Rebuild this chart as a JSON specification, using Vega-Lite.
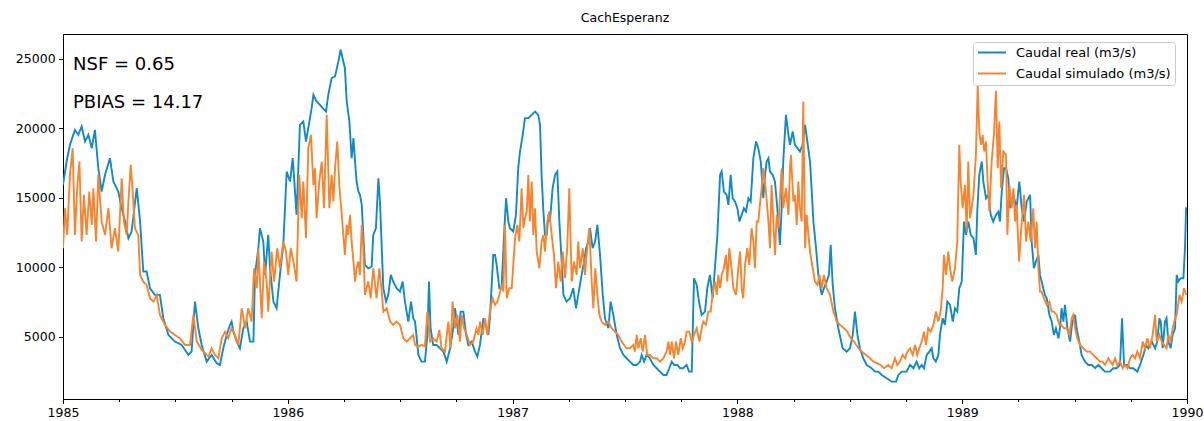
{
"$schema":"https://vega.github.io/schema/vega-lite/v6.json",
"width":1124,"height":365,
"autosize":{"type":"none"},
"padding":{"left":63,"top":34,"right":17,"bottom":22},
"background":"white",
"title":{"text":"CachEsperanz","fontSize":12.5,"fontWeight":"normal","font":"DejaVu Sans","color":"black","anchor":"middle","baseline":"bottom","offset":-3},
"config":{"font":"DejaVu Sans","view":{"stroke":"black","strokeWidth":1},
"axis":{"domainColor":"black","tickColor":"black","labelColor":"black","labelFont":"DejaVu Sans","labelFontSize":12.5,"grid":false,"title":null,"labelPadding":4,"tickWidth":1,"domainWidth":1}},
"datasets":{
"real":[
{"t":1985.000,"q":15930},{"t":1985.016,"q":17610},{"t":1985.031,"q":18811},{"t":1985.053,"q":19892},{"t":1985.068,"q":19532},{"t":1985.083,"q":20133},{"t":1985.098,"q":19052},{"t":1985.113,"q":19532},{"t":1985.128,"q":18571},{"t":1985.142,"q":19892},{"t":1985.157,"q":17130},{"t":1985.172,"q":15449},{"t":1985.187,"q":16650},{"t":1985.209,"q":17851},{"t":1985.224,"q":16169},{"t":1985.246,"q":15449},{"t":1985.261,"q":14248},{"t":1985.276,"q":13287},{"t":1985.291,"q":12086},{"t":1985.305,"q":12566},{"t":1985.328,"q":15689},{"t":1985.343,"q":13287},{"t":1985.357,"q":9684},{"t":1985.372,"q":9684},{"t":1985.387,"q":8483},{"t":1985.409,"q":8002},{"t":1985.431,"q":8002},{"t":1985.446,"q":6321},{"t":1985.469,"q":5120},{"t":1985.498,"q":4640},{"t":1985.528,"q":4399},{"t":1985.558,"q":3679},{"t":1985.572,"q":3919},{"t":1985.587,"q":7522},{"t":1985.602,"q":5600},{"t":1985.617,"q":4399},{"t":1985.639,"q":3198},{"t":1985.661,"q":3679},{"t":1985.684,"q":3078},{"t":1985.698,"q":2958},{"t":1985.713,"q":4159},{"t":1985.728,"q":5120},{"t":1985.743,"q":5841},{"t":1985.750,"q":6081},{"t":1985.758,"q":5360},{"t":1985.773,"q":4640},{"t":1985.787,"q":4159},{"t":1985.802,"q":5600},{"t":1985.817,"q":6081},{"t":1985.832,"q":4640},{"t":1985.847,"q":4640},{"t":1985.854,"q":9444},{"t":1985.869,"q":11365},{"t":1985.876,"q":12806},{"t":1985.891,"q":11846},{"t":1985.899,"q":9444},{"t":1985.913,"q":12326},{"t":1985.921,"q":9924},{"t":1985.936,"q":7522},{"t":1985.950,"q":7042},{"t":1985.965,"q":9444},{"t":1985.980,"q":11605},{"t":1985.995,"q":16890},{"t":1986.010,"q":16169},{"t":1986.022,"q":17851},{"t":1986.032,"q":15449},{"t":1986.039,"q":13767},{"t":1986.054,"q":20253},{"t":1986.069,"q":20493},{"t":1986.081,"q":19052},{"t":1986.091,"q":20013},{"t":1986.106,"q":21454},{"t":1986.114,"q":22414},{"t":1986.128,"q":21934},{"t":1986.143,"q":21694},{"t":1986.155,"q":21454},{"t":1986.170,"q":21213},{"t":1986.180,"q":22414},{"t":1986.195,"q":23615},{"t":1986.210,"q":23736},{"t":1986.225,"q":24816},{"t":1986.235,"q":25657},{"t":1986.247,"q":24816},{"t":1986.254,"q":24336},{"t":1986.262,"q":21934},{"t":1986.274,"q":20493},{"t":1986.284,"q":17851},{"t":1986.292,"q":19292},{"t":1986.299,"q":17610},{"t":1986.306,"q":16169},{"t":1986.314,"q":15449},{"t":1986.321,"q":15208},{"t":1986.329,"q":14488},{"t":1986.336,"q":12326},{"t":1986.343,"q":10164},{"t":1986.358,"q":9924},{"t":1986.373,"q":10044},{"t":1986.380,"q":12326},{"t":1986.392,"q":12806},{"t":1986.403,"q":16409},{"t":1986.410,"q":14728},{"t":1986.418,"q":11365},{"t":1986.425,"q":8483},{"t":1986.437,"q":7522},{"t":1986.447,"q":8002},{"t":1986.458,"q":9444},{"t":1986.469,"q":8963},{"t":1986.484,"q":8483},{"t":1986.499,"q":8243},{"t":1986.511,"q":8963},{"t":1986.521,"q":7522},{"t":1986.536,"q":6081},{"t":1986.548,"q":7522},{"t":1986.558,"q":6321},{"t":1986.566,"q":6081},{"t":1986.581,"q":3679},{"t":1986.595,"q":3198},{"t":1986.610,"q":3198},{"t":1986.621,"q":5120},{"t":1986.628,"q":8963},{"t":1986.635,"q":5600},{"t":1986.647,"q":4399},{"t":1986.662,"q":4399},{"t":1986.677,"q":4159},{"t":1986.692,"q":3919},{"t":1986.707,"q":3198},{"t":1986.722,"q":4159},{"t":1986.736,"q":5600},{"t":1986.744,"q":7042},{"t":1986.759,"q":5120},{"t":1986.769,"q":6801},{"t":1986.781,"q":6801},{"t":1986.793,"q":5120},{"t":1986.803,"q":4399},{"t":1986.818,"q":4640},{"t":1986.833,"q":3919},{"t":1986.843,"q":3559},{"t":1986.855,"q":4399},{"t":1986.870,"q":6321},{"t":1986.885,"q":5600},{"t":1986.892,"q":5120},{"t":1986.899,"q":6321},{"t":1986.907,"q":8723},{"t":1986.914,"q":10885},{"t":1986.922,"q":10885},{"t":1986.929,"q":10164},{"t":1986.941,"q":8483},{"t":1986.951,"q":8483},{"t":1986.962,"q":12326},{"t":1986.971,"q":14968},{"t":1986.981,"q":13287},{"t":1986.988,"q":12806},{"t":1987.003,"q":12566},{"t":1987.015,"q":13767},{"t":1987.025,"q":17130},{"t":1987.033,"q":18331},{"t":1987.045,"q":19532},{"t":1987.055,"q":20733},{"t":1987.070,"q":20733},{"t":1987.085,"q":20973},{"t":1987.100,"q":21213},{"t":1987.114,"q":20973},{"t":1987.122,"q":20253},{"t":1987.129,"q":16650},{"t":1987.137,"q":14007},{"t":1987.144,"q":12326},{"t":1987.152,"q":12326},{"t":1987.159,"q":13767},{"t":1987.166,"q":13287},{"t":1987.178,"q":15689},{"t":1987.189,"q":16650},{"t":1987.199,"q":16890},{"t":1987.208,"q":13287},{"t":1987.215,"q":11365},{"t":1987.226,"q":8002},{"t":1987.240,"q":7522},{"t":1987.255,"q":7762},{"t":1987.270,"q":8483},{"t":1987.282,"q":7042},{"t":1987.292,"q":8002},{"t":1987.307,"q":9444},{"t":1987.318,"q":10404},{"t":1987.327,"q":11365},{"t":1987.337,"q":11846},{"t":1987.344,"q":12806},{"t":1987.356,"q":11365},{"t":1987.367,"q":11846},{"t":1987.377,"q":13047},{"t":1987.389,"q":10885},{"t":1987.401,"q":8002},{"t":1987.411,"q":6321},{"t":1987.426,"q":5600},{"t":1987.436,"q":7522},{"t":1987.448,"q":6561},{"t":1987.463,"q":5120},{"t":1987.478,"q":4159},{"t":1987.493,"q":3679},{"t":1987.507,"q":3439},{"t":1987.522,"q":3198},{"t":1987.537,"q":2958},{"t":1987.552,"q":2958},{"t":1987.567,"q":3198},{"t":1987.574,"q":3679},{"t":1987.585,"q":3198},{"t":1987.596,"q":3679},{"t":1987.611,"q":3439},{"t":1987.626,"q":2958},{"t":1987.641,"q":2718},{"t":1987.656,"q":2478},{"t":1987.671,"q":2238},{"t":1987.685,"q":2238},{"t":1987.697,"q":2718},{"t":1987.708,"q":3198},{"t":1987.719,"q":2958},{"t":1987.733,"q":2958},{"t":1987.745,"q":2718},{"t":1987.759,"q":2718},{"t":1987.774,"q":2958},{"t":1987.785,"q":2478},{"t":1987.797,"q":2478},{"t":1987.807,"q":9203},{"t":1987.819,"q":8723},{"t":1987.829,"q":7522},{"t":1987.841,"q":6561},{"t":1987.856,"q":6801},{"t":1987.866,"q":8483},{"t":1987.878,"q":9444},{"t":1987.890,"q":7762},{"t":1987.900,"q":9924},{"t":1987.911,"q":12326},{"t":1987.923,"q":16650},{"t":1987.930,"q":16890},{"t":1987.940,"q":15449},{"t":1987.952,"q":15208},{"t":1987.960,"q":14488},{"t":1987.970,"q":16650},{"t":1987.979,"q":14968},{"t":1987.989,"q":14728},{"t":1988.000,"q":14248},{"t":1988.009,"q":13287},{"t":1988.019,"q":13767},{"t":1988.029,"q":14248},{"t":1988.038,"q":14007},{"t":1988.049,"q":14968},{"t":1988.059,"q":14728},{"t":1988.071,"q":17851},{"t":1988.083,"q":19052},{"t":1988.093,"q":18571},{"t":1988.104,"q":17610},{"t":1988.115,"q":14968},{"t":1988.123,"q":16650},{"t":1988.130,"q":17610},{"t":1988.138,"q":17851},{"t":1988.145,"q":16890},{"t":1988.157,"q":16650},{"t":1988.167,"q":16169},{"t":1988.175,"q":14728},{"t":1988.182,"q":13287},{"t":1988.189,"q":11605},{"t":1988.197,"q":14248},{"t":1988.204,"q":17610},{"t":1988.216,"q":20973},{"t":1988.227,"q":19532},{"t":1988.234,"q":18811},{"t":1988.246,"q":19772},{"t":1988.256,"q":18811},{"t":1988.267,"q":18571},{"t":1988.278,"q":18331},{"t":1988.290,"q":18811},{"t":1988.301,"q":20253},{"t":1988.311,"q":19052},{"t":1988.323,"q":17610},{"t":1988.330,"q":15689},{"t":1988.338,"q":13287},{"t":1988.350,"q":11365},{"t":1988.360,"q":9444},{"t":1988.375,"q":8002},{"t":1988.385,"q":8483},{"t":1988.397,"q":8963},{"t":1988.407,"q":9444},{"t":1988.415,"q":11605},{"t":1988.424,"q":8723},{"t":1988.434,"q":7042},{"t":1988.449,"q":5600},{"t":1988.468,"q":4159},{"t":1988.486,"q":3919},{"t":1988.501,"q":4159},{"t":1988.513,"q":5120},{"t":1988.523,"q":6801},{"t":1988.534,"q":5120},{"t":1988.545,"q":4159},{"t":1988.560,"q":3439},{"t":1988.575,"q":2958},{"t":1988.597,"q":2718},{"t":1988.612,"q":2478},{"t":1988.627,"q":2478},{"t":1988.642,"q":2238},{"t":1988.664,"q":1997},{"t":1988.686,"q":1757},{"t":1988.706,"q":1757},{"t":1988.716,"q":2238},{"t":1988.731,"q":2478},{"t":1988.753,"q":2478},{"t":1988.768,"q":2958},{"t":1988.783,"q":2718},{"t":1988.797,"q":3198},{"t":1988.809,"q":2718},{"t":1988.820,"q":2958},{"t":1988.830,"q":2718},{"t":1988.842,"q":3679},{"t":1988.854,"q":3919},{"t":1988.864,"q":4159},{"t":1988.872,"q":3439},{"t":1988.883,"q":3198},{"t":1988.894,"q":3679},{"t":1988.901,"q":5120},{"t":1988.913,"q":6321},{"t":1988.923,"q":5841},{"t":1988.934,"q":7522},{"t":1988.946,"q":7282},{"t":1988.958,"q":6081},{"t":1988.968,"q":7042},{"t":1988.978,"q":6801},{"t":1988.987,"q":8483},{"t":1988.998,"q":8963},{"t":1989.008,"q":13287},{"t":1989.017,"q":12326},{"t":1989.027,"q":13287},{"t":1989.038,"q":12326},{"t":1989.050,"q":12086},{"t":1989.061,"q":10885},{"t":1989.067,"q":14007},{"t":1989.076,"q":16650},{"t":1989.087,"q":17610},{"t":1989.094,"q":16169},{"t":1989.106,"q":14968},{"t":1989.116,"q":15208},{"t":1989.127,"q":13767},{"t":1989.138,"q":13287},{"t":1989.150,"q":13767},{"t":1989.161,"q":14007},{"t":1989.168,"q":13287},{"t":1989.176,"q":15449},{"t":1989.186,"q":17130},{"t":1989.195,"q":17130},{"t":1989.205,"q":16409},{"t":1989.213,"q":14248},{"t":1989.228,"q":15208},{"t":1989.242,"q":14248},{"t":1989.254,"q":16169},{"t":1989.265,"q":14248},{"t":1989.275,"q":13287},{"t":1989.287,"q":14728},{"t":1989.302,"q":15208},{"t":1989.309,"q":11846},{"t":1989.319,"q":9924},{"t":1989.328,"q":10404},{"t":1989.339,"q":10885},{"t":1989.346,"q":9444},{"t":1989.368,"q":8002},{"t":1989.376,"q":7762},{"t":1989.388,"q":6561},{"t":1989.398,"q":6081},{"t":1989.408,"q":5120},{"t":1989.417,"q":5600},{"t":1989.428,"q":4880},{"t":1989.435,"q":5600},{"t":1989.442,"q":7042},{"t":1989.450,"q":6081},{"t":1989.457,"q":7282},{"t":1989.468,"q":5600},{"t":1989.480,"q":4640},{"t":1989.490,"q":6081},{"t":1989.502,"q":6561},{"t":1989.509,"q":5600},{"t":1989.521,"q":4640},{"t":1989.531,"q":3679},{"t":1989.546,"q":3198},{"t":1989.561,"q":2958},{"t":1989.576,"q":2958},{"t":1989.591,"q":2718},{"t":1989.606,"q":2958},{"t":1989.620,"q":2718},{"t":1989.635,"q":2478},{"t":1989.657,"q":2478},{"t":1989.672,"q":2718},{"t":1989.687,"q":2718},{"t":1989.702,"q":2958},{"t":1989.711,"q":6321},{"t":1989.720,"q":2958},{"t":1989.735,"q":2958},{"t":1989.747,"q":2718},{"t":1989.761,"q":2718},{"t":1989.779,"q":2478},{"t":1989.791,"q":2958},{"t":1989.806,"q":3679},{"t":1989.818,"q":4399},{"t":1989.828,"q":4159},{"t":1989.843,"q":4640},{"t":1989.858,"q":4159},{"t":1989.868,"q":4640},{"t":1989.877,"q":6321},{"t":1989.883,"q":6081},{"t":1989.892,"q":4159},{"t":1989.902,"q":6081},{"t":1989.909,"q":6321},{"t":1989.917,"q":4640},{"t":1989.927,"q":4159},{"t":1989.936,"q":5120},{"t":1989.947,"q":5600},{"t":1989.954,"q":9444},{"t":1989.961,"q":8963},{"t":1989.972,"q":9203},{"t":1989.984,"q":9203},{"t":1989.991,"q":11365},{"t":1989.996,"q":14248},{"t":1989.999,"q":14250}
],
"sim":[
{"t":1985.000,"q":11365},{"t":1985.009,"q":14248},{"t":1985.019,"q":12326},{"t":1985.031,"q":16650},{"t":1985.043,"q":18571},{"t":1985.053,"q":12326},{"t":1985.064,"q":15929},{"t":1985.073,"q":17610},{"t":1985.083,"q":11846},{"t":1985.093,"q":15208},{"t":1985.105,"q":12326},{"t":1985.117,"q":15449},{"t":1985.128,"q":13047},{"t":1985.135,"q":15689},{"t":1985.147,"q":11846},{"t":1985.157,"q":16650},{"t":1985.172,"q":13287},{"t":1985.187,"q":12326},{"t":1985.202,"q":14248},{"t":1985.216,"q":11365},{"t":1985.231,"q":12806},{"t":1985.246,"q":11125},{"t":1985.261,"q":16409},{"t":1985.271,"q":13287},{"t":1985.283,"q":12326},{"t":1985.291,"q":14728},{"t":1985.301,"q":17370},{"t":1985.310,"q":15449},{"t":1985.320,"q":12806},{"t":1985.335,"q":12326},{"t":1985.343,"q":9444},{"t":1985.357,"q":8963},{"t":1985.372,"q":8723},{"t":1985.387,"q":7762},{"t":1985.402,"q":7522},{"t":1985.417,"q":8002},{"t":1985.431,"q":6561},{"t":1985.454,"q":5841},{"t":1985.476,"q":5360},{"t":1985.498,"q":5120},{"t":1985.520,"q":4880},{"t":1985.543,"q":4399},{"t":1985.565,"q":4399},{"t":1985.580,"q":6561},{"t":1985.595,"q":4640},{"t":1985.617,"q":4039},{"t":1985.647,"q":3559},{"t":1985.661,"q":4159},{"t":1985.676,"q":3679},{"t":1985.691,"q":3439},{"t":1985.706,"q":4880},{"t":1985.721,"q":5360},{"t":1985.735,"q":4880},{"t":1985.750,"q":5600},{"t":1985.765,"q":5120},{"t":1985.780,"q":4399},{"t":1985.795,"q":7042},{"t":1985.810,"q":5600},{"t":1985.824,"q":7042},{"t":1985.839,"q":6081},{"t":1985.850,"q":9924},{"t":1985.862,"q":8483},{"t":1985.869,"q":11365},{"t":1985.884,"q":6321},{"t":1985.894,"q":10404},{"t":1985.906,"q":8963},{"t":1985.913,"q":6801},{"t":1985.928,"q":11125},{"t":1985.939,"q":8963},{"t":1985.953,"q":11365},{"t":1985.965,"q":9924},{"t":1985.980,"q":11846},{"t":1985.992,"q":11125},{"t":1986.002,"q":9444},{"t":1986.013,"q":11365},{"t":1986.025,"q":10404},{"t":1986.039,"q":8963},{"t":1986.051,"q":16650},{"t":1986.062,"q":13527},{"t":1986.069,"q":16169},{"t":1986.081,"q":12086},{"t":1986.091,"q":18571},{"t":1986.103,"q":19532},{"t":1986.114,"q":15929},{"t":1986.121,"q":17130},{"t":1986.128,"q":13527},{"t":1986.140,"q":16169},{"t":1986.151,"q":17610},{"t":1986.161,"q":14248},{"t":1986.173,"q":20973},{"t":1986.185,"q":14248},{"t":1986.195,"q":16650},{"t":1986.203,"q":14728},{"t":1986.210,"q":17130},{"t":1986.220,"q":19052},{"t":1986.229,"q":15929},{"t":1986.240,"q":13767},{"t":1986.247,"q":12326},{"t":1986.254,"q":10885},{"t":1986.262,"q":13047},{"t":1986.269,"q":12326},{"t":1986.277,"q":13767},{"t":1986.284,"q":11846},{"t":1986.292,"q":10404},{"t":1986.299,"q":8963},{"t":1986.306,"q":9924},{"t":1986.314,"q":10404},{"t":1986.321,"q":9444},{"t":1986.329,"q":13047},{"t":1986.336,"q":11365},{"t":1986.343,"q":8002},{"t":1986.358,"q":8963},{"t":1986.369,"q":7762},{"t":1986.380,"q":9924},{"t":1986.395,"q":7762},{"t":1986.407,"q":9924},{"t":1986.418,"q":8243},{"t":1986.425,"q":6801},{"t":1986.440,"q":7042},{"t":1986.455,"q":6081},{"t":1986.469,"q":5841},{"t":1986.484,"q":6081},{"t":1986.499,"q":5841},{"t":1986.514,"q":4880},{"t":1986.529,"q":4640},{"t":1986.544,"q":4880},{"t":1986.558,"q":5120},{"t":1986.566,"q":4399},{"t":1986.581,"q":4279},{"t":1986.595,"q":4399},{"t":1986.610,"q":4279},{"t":1986.621,"q":6801},{"t":1986.633,"q":4640},{"t":1986.647,"q":4880},{"t":1986.662,"q":4640},{"t":1986.674,"q":5480},{"t":1986.684,"q":4159},{"t":1986.699,"q":3919},{"t":1986.714,"q":6081},{"t":1986.724,"q":4159},{"t":1986.733,"q":7522},{"t":1986.744,"q":5600},{"t":1986.754,"q":6561},{"t":1986.766,"q":4640},{"t":1986.773,"q":6561},{"t":1986.784,"q":5600},{"t":1986.796,"q":5120},{"t":1986.810,"q":4399},{"t":1986.825,"q":4640},{"t":1986.840,"q":5600},{"t":1986.848,"q":5120},{"t":1986.855,"q":6081},{"t":1986.867,"q":5120},{"t":1986.877,"q":6321},{"t":1986.888,"q":5120},{"t":1986.899,"q":6801},{"t":1986.911,"q":7762},{"t":1986.922,"q":7282},{"t":1986.932,"q":7522},{"t":1986.941,"q":8002},{"t":1986.951,"q":8723},{"t":1986.959,"q":8243},{"t":1986.966,"q":13047},{"t":1986.974,"q":7762},{"t":1986.985,"q":8483},{"t":1986.996,"q":8483},{"t":1987.003,"q":10164},{"t":1987.011,"q":12086},{"t":1987.021,"q":13047},{"t":1987.030,"q":11846},{"t":1987.040,"q":15689},{"t":1987.048,"q":12806},{"t":1987.055,"q":13527},{"t":1987.063,"q":14007},{"t":1987.070,"q":16650},{"t":1987.077,"q":13287},{"t":1987.085,"q":16169},{"t":1987.092,"q":12326},{"t":1987.100,"q":14248},{"t":1987.107,"q":11125},{"t":1987.119,"q":9924},{"t":1987.129,"q":11846},{"t":1987.137,"q":12326},{"t":1987.144,"q":11125},{"t":1987.152,"q":13047},{"t":1987.163,"q":14007},{"t":1987.174,"q":12326},{"t":1987.184,"q":10885},{"t":1987.193,"q":8483},{"t":1987.203,"q":10404},{"t":1987.214,"q":8963},{"t":1987.223,"q":11125},{"t":1987.233,"q":9203},{"t":1987.243,"q":11365},{"t":1987.252,"q":15689},{"t":1987.263,"q":8963},{"t":1987.273,"q":10404},{"t":1987.285,"q":9444},{"t":1987.292,"q":11846},{"t":1987.300,"q":9924},{"t":1987.312,"q":11365},{"t":1987.322,"q":9444},{"t":1987.329,"q":10885},{"t":1987.341,"q":12806},{"t":1987.352,"q":8963},{"t":1987.359,"q":7042},{"t":1987.368,"q":9924},{"t":1987.377,"q":8002},{"t":1987.386,"q":6561},{"t":1987.396,"q":6081},{"t":1987.411,"q":5841},{"t":1987.426,"q":6081},{"t":1987.441,"q":5600},{"t":1987.455,"q":5360},{"t":1987.470,"q":5120},{"t":1987.485,"q":4640},{"t":1987.507,"q":4159},{"t":1987.522,"q":4159},{"t":1987.537,"q":4399},{"t":1987.544,"q":3919},{"t":1987.552,"q":5120},{"t":1987.559,"q":4159},{"t":1987.570,"q":4880},{"t":1987.579,"q":3919},{"t":1987.589,"q":5120},{"t":1987.599,"q":3679},{"t":1987.611,"q":3679},{"t":1987.626,"q":3439},{"t":1987.641,"q":3439},{"t":1987.656,"q":3198},{"t":1987.671,"q":3439},{"t":1987.685,"q":3919},{"t":1987.693,"q":4640},{"t":1987.700,"q":3679},{"t":1987.708,"q":4640},{"t":1987.718,"q":3439},{"t":1987.727,"q":4640},{"t":1987.737,"q":3679},{"t":1987.748,"q":4880},{"t":1987.757,"q":4159},{"t":1987.767,"q":4640},{"t":1987.774,"q":5360},{"t":1987.786,"q":5360},{"t":1987.797,"q":4640},{"t":1987.807,"q":5120},{"t":1987.819,"q":5600},{"t":1987.831,"q":4640},{"t":1987.841,"q":5600},{"t":1987.848,"q":6081},{"t":1987.860,"q":5841},{"t":1987.871,"q":6801},{"t":1987.881,"q":6801},{"t":1987.893,"q":8483},{"t":1987.900,"q":8963},{"t":1987.908,"q":8002},{"t":1987.915,"q":9444},{"t":1987.923,"q":8483},{"t":1987.930,"q":9444},{"t":1987.940,"q":9924},{"t":1987.949,"q":10885},{"t":1987.955,"q":8963},{"t":1987.964,"q":11365},{"t":1987.974,"q":9924},{"t":1987.982,"q":8483},{"t":1987.994,"q":8002},{"t":1988.004,"q":9924},{"t":1988.012,"q":11125},{"t":1988.019,"q":8483},{"t":1988.026,"q":7762},{"t":1988.034,"q":10164},{"t":1988.044,"q":11365},{"t":1988.053,"q":10164},{"t":1988.063,"q":12806},{"t":1988.071,"q":11846},{"t":1988.078,"q":9924},{"t":1988.086,"q":13287},{"t":1988.093,"q":13287},{"t":1988.100,"q":14488},{"t":1988.108,"q":15689},{"t":1988.115,"q":17130},{"t":1988.127,"q":15449},{"t":1988.138,"q":13287},{"t":1988.145,"q":11365},{"t":1988.152,"q":15929},{"t":1988.160,"q":13287},{"t":1988.167,"q":10885},{"t":1988.175,"q":13767},{"t":1988.182,"q":12806},{"t":1988.189,"q":14968},{"t":1988.197,"q":17130},{"t":1988.204,"q":14248},{"t":1988.216,"q":15689},{"t":1988.227,"q":13767},{"t":1988.234,"q":17130},{"t":1988.238,"q":18091},{"t":1988.249,"q":14728},{"t":1988.256,"q":15208},{"t":1988.264,"q":13047},{"t":1988.271,"q":16169},{"t":1988.278,"q":14248},{"t":1988.286,"q":13287},{"t":1988.293,"q":21934},{"t":1988.301,"q":11365},{"t":1988.308,"q":13767},{"t":1988.316,"q":12326},{"t":1988.323,"q":11125},{"t":1988.335,"q":9924},{"t":1988.345,"q":8963},{"t":1988.356,"q":8723},{"t":1988.365,"q":9444},{"t":1988.375,"q":8483},{"t":1988.385,"q":9444},{"t":1988.397,"q":8483},{"t":1988.412,"q":8002},{"t":1988.427,"q":6801},{"t":1988.442,"q":6081},{"t":1988.456,"q":5841},{"t":1988.474,"q":5600},{"t":1988.489,"q":5360},{"t":1988.504,"q":4880},{"t":1988.519,"q":4640},{"t":1988.538,"q":4159},{"t":1988.553,"q":3919},{"t":1988.572,"q":3679},{"t":1988.590,"q":3439},{"t":1988.605,"q":3198},{"t":1988.622,"q":3078},{"t":1988.637,"q":2958},{"t":1988.652,"q":2718},{"t":1988.671,"q":2958},{"t":1988.686,"q":2718},{"t":1988.701,"q":3439},{"t":1988.711,"q":2958},{"t":1988.723,"q":3198},{"t":1988.735,"q":3679},{"t":1988.746,"q":3439},{"t":1988.756,"q":3919},{"t":1988.768,"q":4159},{"t":1988.780,"q":3679},{"t":1988.790,"q":4399},{"t":1988.800,"q":3679},{"t":1988.809,"q":4159},{"t":1988.820,"q":4640},{"t":1988.830,"q":5360},{"t":1988.839,"q":4399},{"t":1988.849,"q":5600},{"t":1988.860,"q":5360},{"t":1988.872,"q":5841},{"t":1988.883,"q":6801},{"t":1988.894,"q":6081},{"t":1988.904,"q":6801},{"t":1988.913,"q":8483},{"t":1988.919,"q":10885},{"t":1988.928,"q":9444},{"t":1988.938,"q":11125},{"t":1988.946,"q":9924},{"t":1988.956,"q":8963},{"t":1988.968,"q":9924},{"t":1988.978,"q":11846},{"t":1988.987,"q":18811},{"t":1988.993,"q":16169},{"t":1989.002,"q":14248},{"t":1989.012,"q":15929},{"t":1989.020,"q":12566},{"t":1989.027,"q":17610},{"t":1989.035,"q":13527},{"t":1989.042,"q":14248},{"t":1989.050,"q":15208},{"t":1989.061,"q":18091},{"t":1989.069,"q":23100},{"t":1989.076,"q":19772},{"t":1989.084,"q":18811},{"t":1989.091,"q":19532},{"t":1989.098,"q":18331},{"t":1989.106,"q":19052},{"t":1989.113,"q":16169},{"t":1989.121,"q":14007},{"t":1989.131,"q":17610},{"t":1989.141,"q":19532},{"t":1989.150,"q":22700},{"t":1989.158,"q":17130},{"t":1989.165,"q":20493},{"t":1989.173,"q":15689},{"t":1989.183,"q":18331},{"t":1989.195,"q":18091},{"t":1989.201,"q":12326},{"t":1989.210,"q":15929},{"t":1989.220,"q":14248},{"t":1989.228,"q":15689},{"t":1989.235,"q":13287},{"t":1989.242,"q":14488},{"t":1989.253,"q":10404},{"t":1989.265,"q":13287},{"t":1989.275,"q":15208},{"t":1989.284,"q":11846},{"t":1989.294,"q":13287},{"t":1989.305,"q":11846},{"t":1989.316,"q":14248},{"t":1989.324,"q":11365},{"t":1989.331,"q":13287},{"t":1989.339,"q":9924},{"t":1989.346,"q":8243},{"t":1989.353,"q":8243},{"t":1989.364,"q":7762},{"t":1989.376,"q":7282},{"t":1989.388,"q":7522},{"t":1989.398,"q":6801},{"t":1989.408,"q":6801},{"t":1989.420,"q":6561},{"t":1989.432,"q":5841},{"t":1989.442,"q":5841},{"t":1989.453,"q":5600},{"t":1989.465,"q":5600},{"t":1989.477,"q":5120},{"t":1989.487,"q":6321},{"t":1989.494,"q":6561},{"t":1989.502,"q":5600},{"t":1989.512,"q":4880},{"t":1989.524,"q":4399},{"t":1989.539,"q":4159},{"t":1989.554,"q":3919},{"t":1989.569,"q":3919},{"t":1989.583,"q":3679},{"t":1989.598,"q":3439},{"t":1989.613,"q":3198},{"t":1989.625,"q":3198},{"t":1989.635,"q":2958},{"t":1989.650,"q":3439},{"t":1989.660,"q":3198},{"t":1989.669,"q":2958},{"t":1989.680,"q":3439},{"t":1989.690,"q":2958},{"t":1989.702,"q":3198},{"t":1989.714,"q":2718},{"t":1989.724,"q":2958},{"t":1989.735,"q":2718},{"t":1989.747,"q":3439},{"t":1989.758,"q":3679},{"t":1989.769,"q":3439},{"t":1989.779,"q":3919},{"t":1989.791,"q":3439},{"t":1989.803,"q":4640},{"t":1989.813,"q":4159},{"t":1989.824,"q":4880},{"t":1989.835,"q":4159},{"t":1989.847,"q":5120},{"t":1989.858,"q":6561},{"t":1989.865,"q":4640},{"t":1989.877,"q":5120},{"t":1989.887,"q":4640},{"t":1989.898,"q":4399},{"t":1989.909,"q":4159},{"t":1989.917,"q":5120},{"t":1989.927,"q":4640},{"t":1989.936,"q":5600},{"t":1989.947,"q":6321},{"t":1989.954,"q":6561},{"t":1989.966,"q":8002},{"t":1989.976,"q":7522},{"t":1989.987,"q":8483},{"t":1989.996,"q":8002}
],
"notes":[{"label":"NSF = 0.65"},{"label":"PBIAS = 14.17"}]},
"layer":[
{"data":{"name":"real"},"mark":{"type":"line","strokeWidth":1.9,"clip":true},
"encoding":{
"x":{"field":"t","type":"quantitative","scale":{"domain":[1985,1990],"nice":false,"zero":false},
"axis":{"values":[1985,1985.25,1985.5,1985.75,1986,1986.25,1986.5,1986.75,1987,1987.25,1987.5,1987.75,1988,1988.25,1988.5,1988.75,1989,1989.25,1989.5,1989.75,1990],
"labelExpr":"datum.value % 1 === 0 ? format(datum.value, 'd') : ''","labelOverlap":false,"labelFlush":false,"labelBound":false,
"tickSize":{"condition":{"test":"datum.value % 1 === 0","value":4.4},"value":2.5},"labelPadding":3}},
"y":{"field":"q","type":"quantitative","scale":{"domain":[505,26795],"nice":false,"zero":false},
"axis":{"values":[5000,10000,15000,20000,25000],"format":"d","tickSize":4.4,"labelPadding":3.5}},
"color":{"datum":"Caudal real (m3/s)","type":"nominal",
"scale":{"domain":["Caudal real (m3/s)","Caudal simulado (m3/s)"],"range":["#118ac8","#f7852f"]},
"legend":{"title":null,"orient":"none","legendX":910,"legendY":8,"symbolType":"stroke","symbolSize":784,"symbolStrokeWidth":2,"clipHeight":13,
"labelFontSize":13,"labelFont":"DejaVu Sans","labelColor":"black","labelOffset":9,"padding":4,"rowPadding":7,
"fillColor":"rgba(255,255,255,0.8)","strokeColor":"#cccccc","cornerRadius":3}}}},
{"data":{"name":"sim"},"mark":{"type":"line","strokeWidth":1.9,"clip":true},
"encoding":{"x":{"field":"t","type":"quantitative"},"y":{"field":"q","type":"quantitative"},
"color":{"datum":"Caudal simulado (m3/s)","type":"nominal"}}},
{"data":{"name":"notes"},"transform":[{"filter":"datum.label == 'NSF = 0.65'"}],
"mark":{"type":"text","align":"left","baseline":"alphabetic","fontSize":18,"font":"DejaVu Sans","color":"black"},
"encoding":{"text":{"field":"label"},"x":{"datum":1985.0445,"type":"quantitative"},"y":{"datum":24194,"type":"quantitative"}}},
{"data":{"name":"notes"},"transform":[{"filter":"datum.label == 'PBIAS = 14.17'"}],
"mark":{"type":"text","align":"left","baseline":"alphabetic","fontSize":18,"font":"DejaVu Sans","color":"black"},
"encoding":{"text":{"field":"label"},"x":{"datum":1985.0445,"type":"quantitative"},"y":{"datum":21457,"type":"quantitative"}}}
]
}
